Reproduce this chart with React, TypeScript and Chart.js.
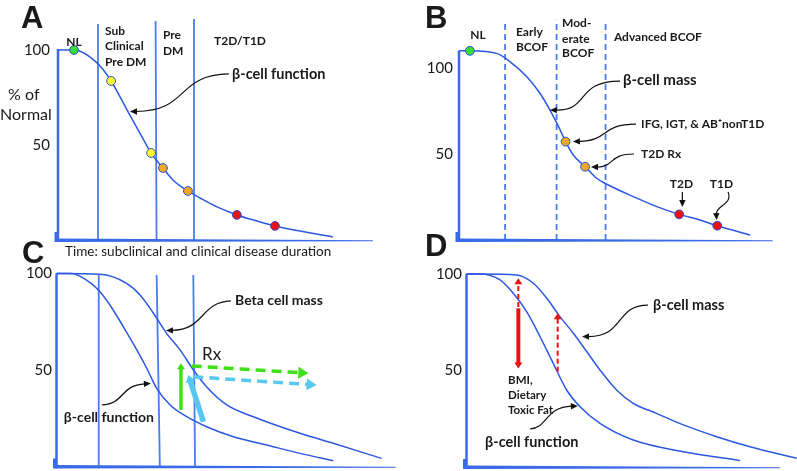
import React, { useEffect, useRef } from "react";
import { Chart, registerables } from "chart.js";
Chart.register(...registerables);

// ---------------- DATA (x: disease time, arbitrary units; y: % of normal) ----------------
const tickValues = [100, 50];
const tickLabels = ["100", "50"];

// Panel A — β-cell function with stage markers
const aFunctionX = [0, 5, 12.2, 16.6, 19.4, 21.9, 25.6, 29.1, 32.8, 35.9, 40.6, 44.4, 49.7, 55.9, 62.2, 67.8, 75.6, 85.9];
const aFunctionY = [100, 100, 93.2, 83.7, 75.3, 67.4, 56.3, 45.8, 37.9, 31.6, 25.8, 22.1, 17.4, 13.2, 10.0, 7.4, 4.7, 1.6];
const aStageX = [5, 16.6, 29.1, 32.8, 40.6, 55.9, 67.8];
const aStageY = [100, 83.7, 45.8, 37.9, 25.8, 13.2, 7.4];
const aStageColors = ["#35dd35", "#ffff2a", "#ffff2a", "#f2a81e", "#f2a81e", "#ee1111", "#ee1111"];
const aPhaseBottomX = [12.5, 30.8, 42.8];
const aPhaseTopX = [12.5, 30.5, 42.5];
const aPhaseTopY = [113.7, 115.3, 116.3];

// Panel B — β-cell mass with BCOF stages
const bMassX = [0, 3.4, 11.8, 15.9, 21.2, 25.3, 28.4, 31.6, 33.3, 35.7, 39.4, 43.0, 46.2, 54.5, 61.8, 68.8, 75.3, 80.7, 91.0];
const bMassY = [110, 110, 108.5, 103.7, 94.9, 85.3, 75.6, 64.0, 57.2, 49.4, 42.6, 35.9, 32.4, 25.2, 19.4, 14.9, 11.6, 8.3, 2.9];
const bStageX = [3.4, 33.3, 39.4, 68.8, 80.7];
const bStageY = [110, 57.2, 42.6, 14.9, 8.3];
const bStageColors = ["#35dd35", "#f2a81e", "#f2a81e", "#ee1111", "#ee1111"];
const bPhaseX = [14.4, 30.5, 45.8];
const bPhaseTopY = [126.2, 128, 126.2];

// Panel C — function vs mass with treatment
const cFunctionX = [0, 4.75, 9.4, 13.1, 16.7, 20.9, 25.1, 28.2, 31.3, 35.5, 40.7, 46.9, 55.3, 65.7, 76.1, 86.5];
const cFunctionY = [100, 100, 96.6, 91.5, 83.7, 72.4, 60.4, 50.9, 40.5, 31.9, 25.8, 20.6, 15.4, 11.1, 6.8, 3.0];
const cMassX = [0, 13.6, 21.9, 26.1, 30.3, 34.4, 38.6, 42.8, 46.9, 53.2, 61.5, 76.1, 86.5, 101.6];
const cMassY = [100, 99.6, 94.9, 88.9, 79.4, 69.0, 60.4, 50.0, 41.3, 31.9, 25.8, 17.2, 12.0, 4.2];
const cPhaseBottomX = [13.2, 32.3, 43.3];
const cPhaseTopX = [13.2, 31.3, 42.75];
const cPhaseTopY = [99.2, 99.2, 99.2];

// Panel D — function vs mass with BMI / toxic fat
const dFunctionX = [0, 4.2, 10.5, 14.6, 18.8, 23.0, 27.1, 31.3, 35.5, 41.7, 52.1, 67.8, 85.5];
const dFunctionY = [100, 100, 96.9, 90.0, 80.5, 67.5, 53.7, 39.9, 31.2, 22.6, 14.0, 7.9, 3.3];
const dMassX = [0, 4.2, 15.7, 20.9, 25.1, 29.2, 33.4, 37.6, 41.7, 46.9, 52.1, 59.4, 67.8, 78.2, 88.6, 103.2];
const dMassY = [100, 100, 99.5, 95.2, 87.4, 77.9, 69.3, 59.7, 50.3, 39.9, 33.0, 27.8, 21.8, 15.7, 10.5, 4.5];

// ---------------- STYLE ----------------
const FONT = 'Lato, "Open Sans", "DejaVu Sans", sans-serif';
const LETTER_FONT = 'bold 31px "Liberation Sans", Arial, sans-serif';
const CURVE = "#2d58e2";
const AXIS = "#3a6ae8";
const VLINE = "#4a7cf0";
const TEXT = "#1a1a1a";
const GREEN = "#3ee018";
const CYAN = "#58c8f0";
const RED = "#ee1111";

type Pt = { x: number; y: number };
type Txt = { t: string; x: number; y: number; font: string; align?: CanvasTextAlign };
type Arrow = { x0: number; y0: number; x1: number; y1: number; color: string; width: number; dash?: number[]; len: number; half: number };
type Vert = { xb: number; xt: number; top: number; dash?: number[] };
type Spec = {
  left: number; bottom: number; kx: number; ky: number; yMax: number;
  curves: Pt[][]; axisTop: number; axisEnd: number; verticals: Vert[];
  dots: Pt[]; dotColors: string[]; texts: Txt[]; callouts: number[][];
  arrows: Arrow[]; tickX: number;
};

const zip = (xs: number[], ys: number[]): Pt[] => xs.map((x, i) => ({ x, y: ys[i] }));
const b = (s: number) => `bold ${s}px ${FONT}`;
const n = (s: number) => `${s}px ${FONT}`;

const specA: Spec = {
  left: 58, bottom: 240, kx: 3.2, ky: 1.9, yMax: 120,
  curves: [zip(aFunctionX, aFunctionY)],
  axisTop: 100.5, axisEnd: 98.4,
  verticals: aPhaseBottomX.map((xb, i) => ({ xb, xt: aPhaseTopX[i], top: aPhaseTopY[i] })),
  dots: zip(aStageX, aStageY), dotColors: aStageColors,
  texts: [
    { t: "A", x: -11.6, y: 116.3, font: LETTER_FONT },
    { t: "NL", x: 5, y: 104.2, font: b(12), align: "center" },
    { t: "Sub", x: 14.7, y: 110, font: b(12) },
    { t: "Clinical", x: 14.7, y: 101.8, font: b(12) },
    { t: "Pre DM", x: 14.7, y: 93.7, font: b(12) },
    { t: "Pre", x: 32.8, y: 107.9, font: b(12) },
    { t: "DM", x: 32.8, y: 99.5, font: b(12) },
    { t: "T2D/T1D", x: 48.75, y: 104.5, font: b(12) },
    { t: "β-cell function", x: 54.4, y: 87.4, font: b(14.5) },
    { t: "% of", x: -15.6, y: 76.3, font: n(16) },
    { t: "Normal", x: -18.1, y: 65.8, font: n(16) },
    { t: "Time: subclinical and clinical disease duration", x: 2.2, y: -6.3, font: n(13.5) },
  ],
  callouts: [[53.4, 87.4, 36.6, 86.8, 41.25, 67.9, 22.5, 67.6]],
  arrows: [], tickX: -2.5,
};

const specB: Spec = {
  left: 459, bottom: 240, kx: 3.2, ky: 1.72, yMax: 130,
  curves: [zip(bMassX, bMassY)],
  axisTop: 110, axisEnd: 98,
  verticals: bPhaseX.map((x, i) => ({ xb: x, xt: x, top: bPhaseTopY[i], dash: [6, 4] })),
  dots: zip(bStageX, bStageY), dotColors: bStageColors,
  texts: [
    { t: "B", x: -10.6, y: 128.5, font: LETTER_FONT },
    { t: "NL", x: 5.9, y: 119.2, font: b(12), align: "center" },
    { t: "Early", x: 17.8, y: 120.9, font: b(12) },
    { t: "BCOF", x: 17.8, y: 112.2, font: b(12) },
    { t: "Mod-", x: 32.2, y: 125.9, font: b(12) },
    { t: "erate", x: 32.2, y: 116.9, font: b(12) },
    { t: "BCOF", x: 32.2, y: 108.4, font: b(12) },
    { t: "Advanced BCOF", x: 48.4, y: 118.0, font: b(12) },
    { t: "β-cell mass", x: 51.25, y: 93.0, font: b(15) },
    { t: "IFG, IGT, & AB⁺nonT1D", x: 56.9, y: 67.4, font: b(12) },
    { t: "T2D Rx", x: 56.9, y: 50, font: b(12) },
    { t: "T2D", x: 69.5, y: 32.3, font: b(12), align: "center" },
    { t: "T1D", x: 82.0, y: 32.3, font: b(12), align: "center" },
  ],
  callouts: [
    [50.3, 92.4, 36.25, 92.4, 40.9, 75, 28.4, 75.6],
    [55.3, 67.4, 44.1, 67.4, 47.2, 57.6, 35.6, 57.3],
    [54.7, 50, 46.6, 50, 48.75, 42.4, 41.25, 42.4],
    [69.8, 27.9, 69.8, 24, 69.8, 22, 69.8, 19.2],
    [84.1, 27.9, 85.6, 20.3, 80.3, 20.3, 80.5, 11.6],
  ],
  arrows: [], tickX: -1.9,
};

const specC: Spec = {
  left: 56.5, bottom: 466.5, kx: 3.2, ky: 1.93, yMax: 110,
  curves: [zip(cFunctionX, cFunctionY), zip(cMassX, cMassY)],
  axisTop: 100, axisEnd: 106,
  verticals: cPhaseBottomX.map((xb, i) => ({ xb, xt: cPhaseTopX[i], top: cPhaseTopY[i] })),
  dots: [], dotColors: [],
  texts: [
    { t: "C", x: -10.8, y: 110.1, font: LETTER_FONT },
    { t: "Beta cell mass", x: 55.8, y: 85.8, font: b(14) },
    { t: "Rx", x: 45.5, y: 57.8, font: n(17) },
    { t: "β-cell function", x: 2.3, y: 25.6, font: b(14) },
  ],
  callouts: [
    [54.5, 85.8, 44.8, 85.2, 46.4, 70.7, 34.2, 70.5],
    [14.2, 31.9, 21.4, 32.4, 19.8, 42.2, 29.5, 43.0],
  ],
  arrows: [
    { x0: 38.9, y0: 29.3, x1: 38.9, y1: 53.5, color: GREEN, width: 3.5, len: 6, half: 4 },
    { x0: 42.25, y0: 52.1, x1: 78.7, y1: 48.3, color: GREEN, width: 3.5, dash: [10, 6], len: 10, half: 6 },
    { x0: 42.75, y0: 46.5, x1: 81.3, y1: 42.2, color: CYAN, width: 3.5, dash: [10, 6], len: 10, half: 6 },
    { x0: 45.9, y0: 23.2, x1: 41.2, y1: 47.4, color: CYAN, width: 5.5, len: 7, half: 5 },
  ],
  tickX: -1.4,
};

const specD: Spec = {
  left: 466.5, bottom: 467, kx: 3.2, ky: 1.93, yMax: 110,
  curves: [zip(dFunctionX, dFunctionY), zip(dMassX, dMassY)],
  axisTop: 100, axisEnd: 98,
  verticals: [],
  dots: [], dotColors: [],
  texts: [
    { t: "D", x: -13, y: 114, font: LETTER_FONT },
    { t: "β-cell mass", x: 58.3, y: 83.9, font: b(14.5) },
    { t: "BMI,", x: 13, y: 45.1, font: b(11.5) },
    { t: "Dietary", x: 13, y: 37.3, font: b(11.5) },
    { t: "Toxic Fat", x: 13, y: 29.5, font: b(11.5) },
    { t: "β-cell function", x: 5.8, y: 13, font: b(14.5) },
  ],
  callouts: [
    [56.7, 83.9, 46.4, 83.9, 49.5, 67.4, 36.1, 67.6],
    [19.8, 19.7, 25.5, 20.2, 24.5, 31.1, 34.8, 31.6],
  ],
  arrows: [
    { x0: 16.2, y0: 82.2, x1: 16.2, y1: 51.1, color: RED, width: 4, len: 6, half: 4 },
    { x0: 16.2, y0: 82.9, x1: 16.2, y1: 97.8, color: RED, width: 2, dash: [5, 3], len: 6, half: 4 },
    { x0: 28.5, y0: 49.4, x1: 28.5, y1: 79.6, color: RED, width: 2, dash: [5, 3], len: 6, half: 4 },
  ],
  tickX: -1.4,
};

const W = 797;
const H = 471;

function head(ctx: CanvasRenderingContext2D, fx: number, fy: number, tx: number, ty: number, len: number, half: number, color: string) {
  const a = Math.atan2(ty - fy, tx - fx);
  const c = Math.cos(a), s = Math.sin(a);
  ctx.save();
  ctx.fillStyle = color;
  ctx.beginPath();
  ctx.moveTo(tx, ty);
  ctx.lineTo(tx - len * c + half * s, ty - len * s - half * c);
  ctx.lineTo(tx - len * c - half * s, ty - len * s + half * c);
  ctx.closePath();
  ctx.fill();
  ctx.restore();
}

function buildConfig(sp: Spec): any {
  const width = 100 * sp.kx;
  const height = sp.yMax * sp.ky;
  const padding = { left: sp.left, right: W - sp.left - width, top: sp.bottom - height, bottom: H - sp.bottom };

  const datasets: any[] = [];
  sp.curves.forEach((c) =>
    datasets.push({ data: c, order: 2, borderColor: CURVE, borderWidth: 1.5, pointRadius: 0, cubicInterpolationMode: "monotone", fill: false, clip: false })
  );
  // y axis line
  datasets.push({ data: [{ x: 0, y: sp.axisTop }, { x: 0, y: 0 }], order: 3, borderColor: AXIS, borderWidth: 2.5, pointRadius: 0, clip: false });
  sp.verticals.forEach((v) =>
    datasets.push({ data: [{ x: v.xb, y: 0 }, { x: v.xt, y: v.top }], order: 3, borderColor: VLINE, borderWidth: 1.8, borderDash: v.dash || [], pointRadius: 0, clip: false })
  );
  if (sp.dots.length)
    datasets.push({
      data: sp.dots, order: 0, showLine: false, pointRadius: 4.4, pointBorderWidth: 1,
      pointBorderColor: "#2a50d8", pointBackgroundColor: sp.dotColors, clip: false,
    });

  const plugin = {
    id: "panelDecor",
    afterDatasetsDraw(chart: any) {
      const ctx: CanvasRenderingContext2D = chart.ctx;
      const xs = chart.scales.x, ys = chart.scales.y;
      const X = (v: number) => xs.getPixelForValue(v);
      const Y = (v: number) => ys.getPixelForValue(v);
      ctx.save();
      // bottom axis (tapered bar) and corner block
      const x0 = X(0), y0 = Y(0), xe = X(sp.axisEnd);
      ctx.fillStyle = AXIS;
      ctx.beginPath();
      ctx.moveTo(x0 - 1, y0 - 1.5);
      ctx.lineTo(xe, y0 + 0.3);
      ctx.lineTo(xe, y0 + 1.3);
      ctx.lineTo(x0 - 1, y0 + 2);
      ctx.closePath();
      ctx.fill();
      ctx.fillRect(x0 - 3.5, y0 - 8, 4, 10);

      // tick labels
      ctx.fillStyle = TEXT;
      ctx.font = n(15);
      ctx.textAlign = "right";
      ctx.textBaseline = "middle";
      tickValues.forEach((v, i) => ctx.fillText(tickLabels[i], X(sp.tickX), Y(v)));

      // colored arrows
      sp.arrows.forEach((a) => {
        const fx = X(a.x0), fy = Y(a.y0), tx = X(a.x1), ty = Y(a.y1);
        const ang = Math.atan2(ty - fy, tx - fx);
        const ex = tx - (a.len - 1) * Math.cos(ang), ey = ty - (a.len - 1) * Math.sin(ang);
        ctx.save();
        ctx.strokeStyle = a.color;
        ctx.lineWidth = a.width;
        ctx.setLineDash(a.dash || []);
        ctx.beginPath();
        ctx.moveTo(fx, fy);
        ctx.lineTo(ex, ey);
        ctx.stroke();
        ctx.restore();
        head(ctx, fx, fy, tx, ty, a.len, a.half, a.color);
      });

      // callout arrows
      sp.callouts.forEach((c) => {
        const p = [X(c[0]), Y(c[1]), X(c[2]), Y(c[3]), X(c[4]), Y(c[5]), X(c[6]), Y(c[7])];
        const a = Math.atan2(p[7] - p[5], p[6] - p[4]);
        const hl = 7;
        ctx.save();
        ctx.strokeStyle = "#111";
        ctx.lineWidth = 1.2;
        ctx.beginPath();
        ctx.moveTo(p[0], p[1]);
        ctx.bezierCurveTo(p[2], p[3], p[4], p[5], p[6] - (hl - 1) * Math.cos(a), p[7] - (hl - 1) * Math.sin(a));
        ctx.stroke();
        ctx.restore();
        head(ctx, p[4], p[5], p[6], p[7], hl, 3.2, "#111");
      });

      // texts
      ctx.fillStyle = TEXT;
      ctx.textBaseline = "middle";
      sp.texts.forEach((t) => {
        ctx.font = t.font;
        ctx.textAlign = t.align || "left";
        ctx.fillText(t.t, X(t.x), Y(t.y));
      });
      ctx.restore();
    },
  };

  return {
    type: "line",
    data: { datasets },
    options: {
      animation: false,
      responsive: false,
      maintainAspectRatio: false,
      devicePixelRatio: 1,
      layout: { padding },
      events: [],
      plugins: { legend: { display: false }, tooltip: { enabled: false } },
      scales: {
        x: { type: "linear", min: 0, max: 100, display: false },
        y: { type: "linear", min: 0, max: sp.yMax, display: false },
      },
    },
    plugins: [plugin],
  };
}

function Panel({ spec }: { spec: Spec }) {
  const ref = useRef<HTMLCanvasElement>(null);
  useEffect(() => {
    const chart = new Chart(ref.current as HTMLCanvasElement, buildConfig(spec));
    return () => chart.destroy();
  }, [spec]);
  return (
    <canvas
      ref={ref}
      width={W}
      height={H}
      style={{ position: "absolute", left: 0, top: 0, width: W, height: H }}
    />
  );
}

export default function App() {
  return (
    <div style={{ position: "fixed", left: 0, top: 0, width: W, height: H, background: "#fff", overflow: "hidden" }}>
      <Panel spec={specA} />
      <Panel spec={specB} />
      <Panel spec={specC} />
      <Panel spec={specD} />
    </div>
  );
}
